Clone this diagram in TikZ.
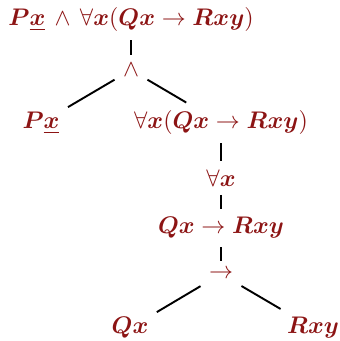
\documentclass[tikz,border=0pt]{standalone}
\usepackage{amsmath,amssymb}
\usepackage{bm}
\usepackage{xcolor}
\definecolor{fmlred}{RGB}{140,20,20}

\begin{document}
\begin{tikzpicture}[x=0.01465cm, y=-0.01465cm,
  fml/.style={text=fmlred},
  br/.style={draw, line width=0.8pt},
]
\useasboundingbox (0,0) rectangle (339,341);

% Whole formula
\node[fml] (root) at (131,20)
  {$\bm{P}\underline{\bm{x}}\,\wedge\,\forall\bm{x}(\bm{Q}\bm{x} \to \bm{R}\bm{x}\bm{y})$};

% Main connective
\node[fml] (conj) at (131,70) {$\wedge$};

% Conjuncts
\node[fml] (left)  at (41,123)  {$\bm{P}\underline{\bm{x}}$};
\node[fml] (right) at (221,123) {$\forall\bm{x}(\bm{Q}\bm{x} \to \bm{R}\bm{x}\bm{y})$};

% Quantifier
\node[fml] (quant) at (221,178) {$\forall\bm{x}$};

% Matrix
\node[fml] (body) at (221,228) {$\bm{Q}\bm{x} \to \bm{R}\bm{x}\bm{y}$};

% Conditional
\node[fml] (cond) at (221,274) {$\to$};

% Antecedent and consequent
\node[fml] (ante) at (130,328) {$\bm{Q}\bm{x}$};
\node[fml] (cons) at (313,328) {$\bm{R}\bm{x}\bm{y}$};

% Branches
\draw[br] (root) -- (conj);
\draw[br] (conj) -- (left);
\draw[br] (conj) -- (right);
\draw[br] (right) -- (quant);
\draw[br] (quant) -- (body);
\draw[br] (body) -- (cond);
\draw[br] (cond) -- (ante);
\draw[br] (cond) -- (cons);
\end{tikzpicture}
\end{document}
